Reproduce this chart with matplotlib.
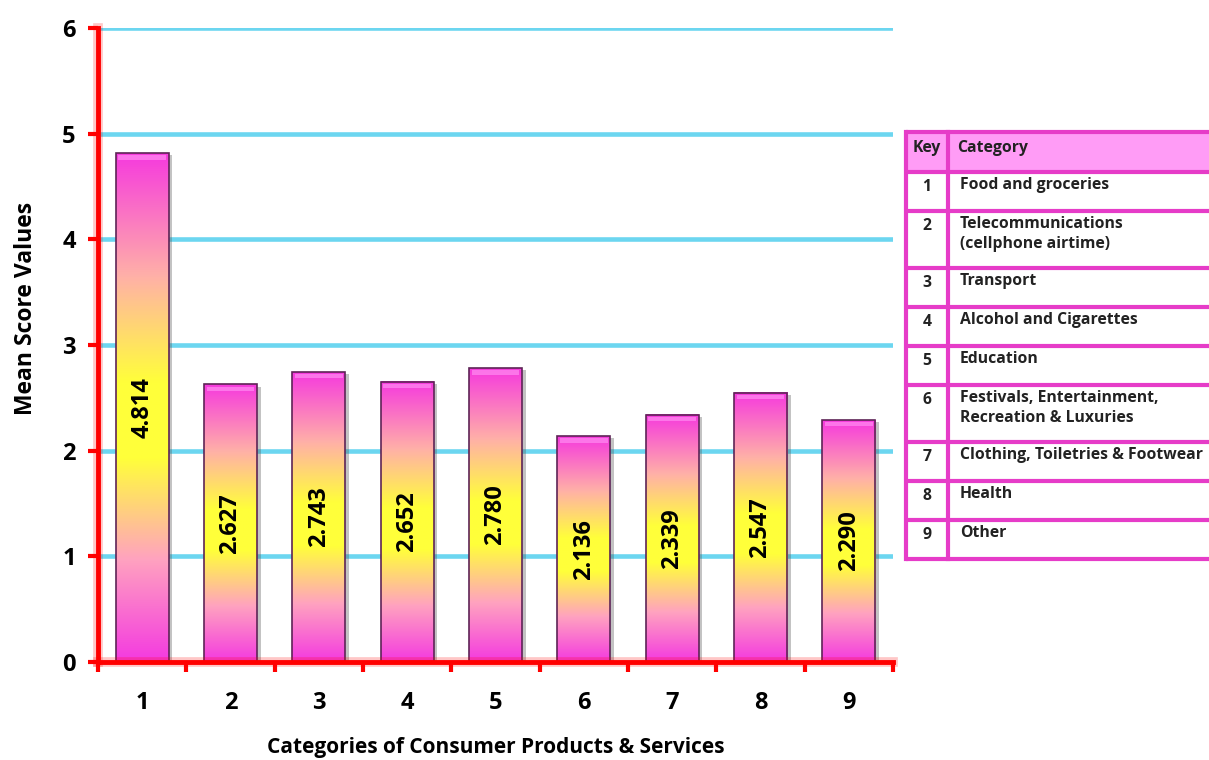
import numpy as np
import matplotlib.pyplot as plt
import matplotlib.patheffects as pe
from matplotlib.colors import LinearSegmentedColormap
from matplotlib.patches import Rectangle

# mean score per category
keys = [1, 2, 3, 4, 5, 6, 7, 8, 9]
means = [4.814, 2.627, 2.743, 2.652, 2.780, 2.136, 2.339, 2.547, 2.290]
categories = [
    "Food and groceries",
    "Telecommunications\n(cellphone airtime)",
    "Transport",
    "Alcohol and Cigarettes",
    "Education",
    "Festivals, Entertainment,\nRecreation & Luxuries",
    "Clothing, Toiletries & Footwear",
    "Health",
    "Other",
]

plt.rcParams["font.family"] = ["Open Sans", "DejaVu Sans"]

# magenta -> peach -> yellow -> peach -> magenta, bottom to top
bar_cmap = LinearSegmentedColormap.from_list(
    "bar_grad",
    [(0.0, "#f43ae0"), (0.2, "#ffa2c0"), (0.4, "#ffff3a"),
     (0.55, "#ffff3a"), (0.76, "#ffb0a8"), (1.0, "#f63ade")],
)

fig = plt.figure(figsize=(12.09, 7.6), dpi=100)
W, H = 1209, 760
ax = fig.add_axes([98 / W, (H - 662) / H, 795 / W, 634 / H])

bar_w = 0.6
grad = np.linspace(0, 1, 256).reshape(-1, 1)
for k, v in zip(keys, means):
    # soft drop shadow
    ax.add_patch(Rectangle((k - bar_w / 2 + 0.04, 0), bar_w, v - 0.02,
                           facecolor="#555555", alpha=0.35, lw=0, zorder=2))
    ax.imshow(grad, cmap=bar_cmap, origin="lower", aspect="auto",
              extent=[k - bar_w / 2, k + bar_w / 2, 0, v], zorder=3)
    ax.add_patch(Rectangle((k - bar_w / 2, 0), bar_w, v, fill=False,
                           edgecolor="#5e2456", lw=1.2, zorder=4))
    # light bevel at the top edge
    ax.add_patch(Rectangle((k - bar_w / 2 + 0.03, v - 0.06), bar_w - 0.06, 0.04,
                           facecolor="#ff8cf0", lw=0, alpha=0.7, zorder=4))
    ax.text(k, v / 2, f"{v:.3f}", rotation=90, ha="center", va="center",
            fontsize=17, fontweight="bold", color="black", zorder=5)

ax.set_xlim(0.5, 9.5)
ax.set_ylim(0, 6)

for y in range(1, 7):
    ax.axhline(y, color="#6cd6f0", lw=3.3, zorder=1)

glow = [pe.withStroke(linewidth=7, foreground=(1, 0, 0, 0.22))]
for side in ("top", "right"):
    ax.spines[side].set_visible(False)
for side in ("left", "bottom"):
    ax.spines[side].set_color("#ff0000")
    ax.spines[side].set_linewidth(3.5)
    ax.spines[side].set_path_effects(glow)
    ax.spines[side].set_zorder(6)

ax.set_yticks(range(0, 7))
ax.set_xticks(keys)
ax.set_xticks(np.arange(0.5, 10, 1), minor=True)
ax.tick_params(axis="x", which="major", length=0, pad=21)
ax.tick_params(axis="x", which="minor", length=7, width=3, color="#ff0000")
ax.tick_params(axis="y", length=7, width=3, color="#ff0000", pad=9)
for lab in ax.get_xticklabels() + ax.get_yticklabels():
    lab.set_fontsize(17)
    lab.set_fontweight("bold")

ax.set_xlabel("Categories of Consumer Products & Services",
              fontsize=15, fontweight="bold")
ax.set_ylabel("Mean Score Values", fontsize=16.5, fontweight="bold")
ax.xaxis.set_label_coords(0.5, -0.118)
ax.yaxis.set_label_coords(-0.075, 0.557)

# key table on the right, laid out in pixel units
tab = fig.add_axes([0, 0, 1, 1], facecolor="none")
tab.set_xlim(0, W)
tab.set_ylim(H, 0)
tab.axis("off")

border = "#e63cc8"
x0, xk, x1 = 906, 948, 1212
top = 132
head_h, line_h, extra_h = 40, 39, 18
row_h = [line_h + extra_h * c.count("\n") for c in categories]
bottom = top + head_h + sum(row_h)

tab.add_patch(Rectangle((x0, top), x1 - x0, head_h, facecolor="#ff9cf6",
                        edgecolor="none", zorder=1))
tab.text((x0 + xk) / 2, top + 16, "Key", ha="center", va="center",
         fontsize=11.3, fontweight="bold", color="#222222")
tab.text(xk + 9, top + 16, "Category", ha="left", va="center",
         fontsize=11.3, fontweight="bold", color="#222222")

y = top + head_h
lines_y = [top, y]
for k, c, h in zip(keys, categories, row_h):
    tab.text((x0 + xk) / 2, y + 15, str(k), ha="center", va="center",
             fontsize=11.3, fontweight="bold", color="#222222")
    tab.text(xk + 12, y + 5, c, ha="left", va="top", fontsize=11.3,
             fontweight="bold", color="#222222", linespacing=1.3)
    y += h
    lines_y.append(y)

for yy in lines_y:
    tab.plot([x0, x1], [yy, yy], color=border, lw=3, solid_capstyle="butt")
for xx in (x0, xk):
    tab.plot([xx, xx], [top, bottom], color=border, lw=3)

fig.savefig("out.png", dpi=100)
